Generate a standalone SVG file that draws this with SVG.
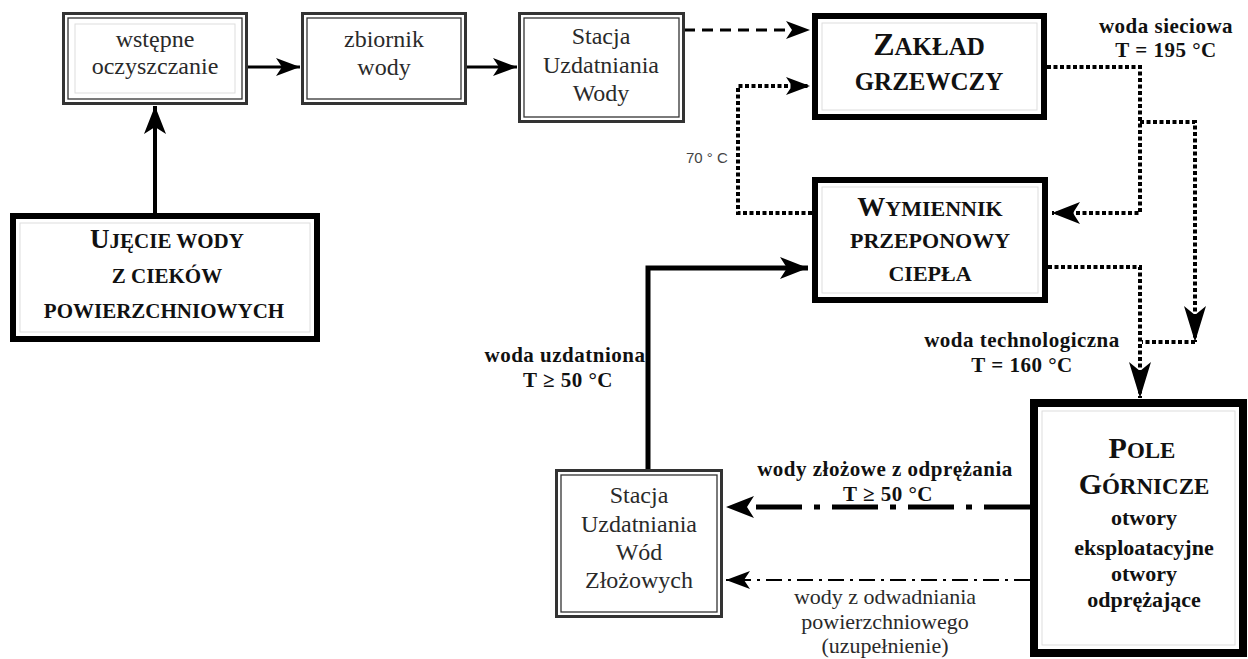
<svg xmlns="http://www.w3.org/2000/svg" width="1248" height="659" viewBox="0 0 1248 659">
<style>
.bg{fill:#fff}
.dbl-o{fill:#fff;stroke:#333;stroke-width:3}
.dbl-i{fill:none;stroke:#333;stroke-width:1.3}
.faint{fill:none;stroke:#ddd;stroke-width:1}
.heavy{fill:#fff;stroke:#000;stroke-width:6}
text{font-family:'Liberation Serif','Times New Roman','DejaVu Serif',serif}
.reg{font-size:24px;fill:#2a2a2a;text-anchor:middle}
.cap{font-weight:bold;fill:#111;text-anchor:middle}
.lbl{font-weight:bold;font-size:21px;letter-spacing:0.5px;fill:#111;text-anchor:middle}
.lblr{font-size:22px;fill:#2a2a2a;text-anchor:middle}
text.sans{font-family:'Liberation Sans',Arial,sans-serif;font-size:15px;fill:#444}
.solid{fill:none;stroke:#000;stroke-width:3}
.dot{fill:none;stroke:#000;stroke-width:4;stroke-dasharray:4 2.5}
.dash{fill:none;stroke:#000;stroke-width:3;stroke-dasharray:11 7}
.dd1{fill:none;stroke:#000;stroke-width:5;stroke-dasharray:46 12 6 12}
.dd2{fill:none;stroke:#000;stroke-width:2;stroke-dasharray:16 6 3 6}
</style>
<defs>
<marker id="ah" markerUnits="userSpaceOnUse" markerWidth="26" markerHeight="20" refX="24" refY="10" orient="auto">
<path d="M0,1 L24,10 L0,19 L6,10 z" fill="#000"/>
</marker>
<marker id="ahb" markerUnits="userSpaceOnUse" markerWidth="30" markerHeight="24" refX="28" refY="12" orient="auto">
<path d="M0,1 L28,12 L0,23 L7,12 z" fill="#000"/>
</marker>
<marker id="ahl" markerUnits="userSpaceOnUse" markerWidth="38" markerHeight="24" refX="36" refY="12" orient="auto">
<path d="M0,1 L36,12 L0,23 L9,12 z" fill="#000"/>
</marker>
</defs>
<rect class="bg" x="0" y="0" width="1248" height="659"/>

<g id="connectors">
<line class="solid" x1="155" y1="213" x2="155" y2="106" marker-end="url(#ahb)" style="stroke-width:4"/>
<line class="solid" x1="247" y1="67" x2="300" y2="67" marker-end="url(#ah)"/>
<line class="solid" x1="466" y1="67" x2="517" y2="67" marker-end="url(#ah)"/>
<line class="dash" x1="684" y1="30" x2="810" y2="30" marker-end="url(#ah)"/>
<polyline class="dot" points="812,213 738,213 738,86 810,86" marker-end="url(#ah)"/>
<polyline class="dot" points="1047,67 1140,67 1140,213 1052,213" marker-end="url(#ahb)"/>
<polyline class="dot" points="1140,122 1195,122 1195,342" marker-end="url(#ahl)"/>
<polyline class="dot" points="1195,342 1142,342"/>
<polyline class="dot" points="1048,267 1140,267 1140,398" marker-end="url(#ahl)"/>
<polyline class="solid" points="648,470 648,268 808,268" marker-end="url(#ahb)" style="stroke-width:5"/>
<line class="dd1" x1="1030" y1="507" x2="726" y2="507" marker-end="url(#ahb)"/>
<line class="dd2" x1="1030" y1="580" x2="726" y2="580" marker-end="url(#ah)"/>
</g>

<g id="n-wstepne">
<rect class="dbl-o" x="63.5" y="13.5" width="183" height="90"/>
<rect class="dbl-i" x="68" y="18" width="174" height="81"/>
<rect class="faint" x="75" y="24" width="160" height="69"/>
<text class="reg" x="155" y="47">wstępne</text>
<text class="reg" x="155" y="74">oczyszczanie</text>
</g>

<g id="n-zbiornik">
<rect class="dbl-o" x="302.5" y="13.5" width="163" height="90"/>
<rect class="dbl-i" x="307" y="18" width="154" height="81"/>
<text class="reg" x="384" y="47">zbiornik</text>
<text class="reg" x="384" y="75">wody</text>
</g>

<g id="n-suw">
<rect class="dbl-o" x="519.5" y="13.5" width="164" height="108"/>
<rect class="dbl-i" x="524" y="18" width="155" height="99"/>
<text class="reg" x="601" y="44">Stacja</text>
<text class="reg" x="601" y="73">Uzdatniania</text>
<text class="reg" x="601" y="101">Wody</text>
</g>

<g id="n-zaklad">
<rect class="heavy" x="815" y="16" width="229" height="101"/>
<rect class="faint" x="822" y="23" width="215" height="87"/>
<text class="cap" x="929" y="55"><tspan font-size="32">Z</tspan><tspan font-size="25">AKŁAD</tspan></text>
<text class="cap" x="929" y="90" font-size="25">GRZEWCZY</text>
</g>

<g id="n-wymiennik">
<rect class="heavy" x="815" y="180" width="230" height="120"/>
<rect class="faint" x="822" y="187" width="216" height="106"/>
<text class="cap" x="930" y="216"><tspan font-size="28">W</tspan><tspan font-size="22">YMIENNIK</tspan></text>
<text class="cap" x="930" y="248" font-size="22">PRZEPONOWY</text>
<text class="cap" x="930" y="281" font-size="22">CIEPŁA</text>
</g>

<g id="n-ujecie">
<rect class="heavy" x="13" y="216" width="304" height="123"/>
<rect class="faint" x="20" y="223" width="290" height="109"/>
<text class="cap" x="167" y="248"><tspan font-size="27">U</tspan><tspan font-size="21">JĘCIE WODY</tspan></text>
<text class="cap" x="167" y="283" font-size="21">Z CIEKÓW</text>
<text class="cap" x="164" y="318" font-size="21">POWIERZCHNIOWYCH</text>
</g>

<g id="n-pole">
<rect x="1034" y="403" width="209" height="250" fill="#fff" stroke="#000" stroke-width="8"/>
<rect class="faint" x="1042" y="411" width="193" height="234"/>
<text class="cap" x="1142" y="458"><tspan font-size="30">P</tspan><tspan font-size="23">OLE</tspan></text>
<text class="cap" x="1144" y="494"><tspan font-size="30">G</tspan><tspan font-size="23">ÓRNICZE</tspan></text>
<text class="cap" x="1144" y="525" font-size="22">otwory</text>
<text class="cap" x="1144" y="555" font-size="22">eksploatacyjne</text>
<text class="cap" x="1144" y="581" font-size="22">otwory</text>
<text class="cap" x="1144" y="607" font-size="22">odprężające</text>
</g>

<g id="n-suwz">
<rect class="dbl-o" x="556.5" y="470.5" width="165" height="146"/>
<rect class="dbl-i" x="561" y="475" width="156" height="137"/>
<text class="reg" x="639" y="503">Stacja</text>
<text class="reg" x="639" y="532">Uzdatniania</text>
<text class="reg" x="639" y="560">Wód</text>
<text class="reg" x="639" y="588">Złożowych</text>
</g>

<g id="labels">
<text class="sans" x="686" y="163">70 ° C</text>
<text class="lbl" x="1166" y="33">woda sieciowa</text>
<text class="lbl" x="1166" y="57">T = 195 °C</text>
<text class="lbl" x="1022" y="347">woda technologiczna</text>
<text class="lbl" x="1022" y="372">T = 160 °C</text>
<text class="lbl" x="565" y="362">woda uzdatniona</text>
<text class="lbl" x="568" y="387">T ≥ 50 °C</text>
<text class="lbl" x="885" y="476">wody złożowe z odprężania</text>
<text class="lbl" x="888" y="501">T ≥ 50 °C</text>
<text class="lblr" x="885" y="604">wody z odwadniania</text>
<text class="lblr" x="885" y="629">powierzchniowego</text>
<text class="lblr" x="885" y="653">(uzupełnienie)</text>
</g>
</svg>
